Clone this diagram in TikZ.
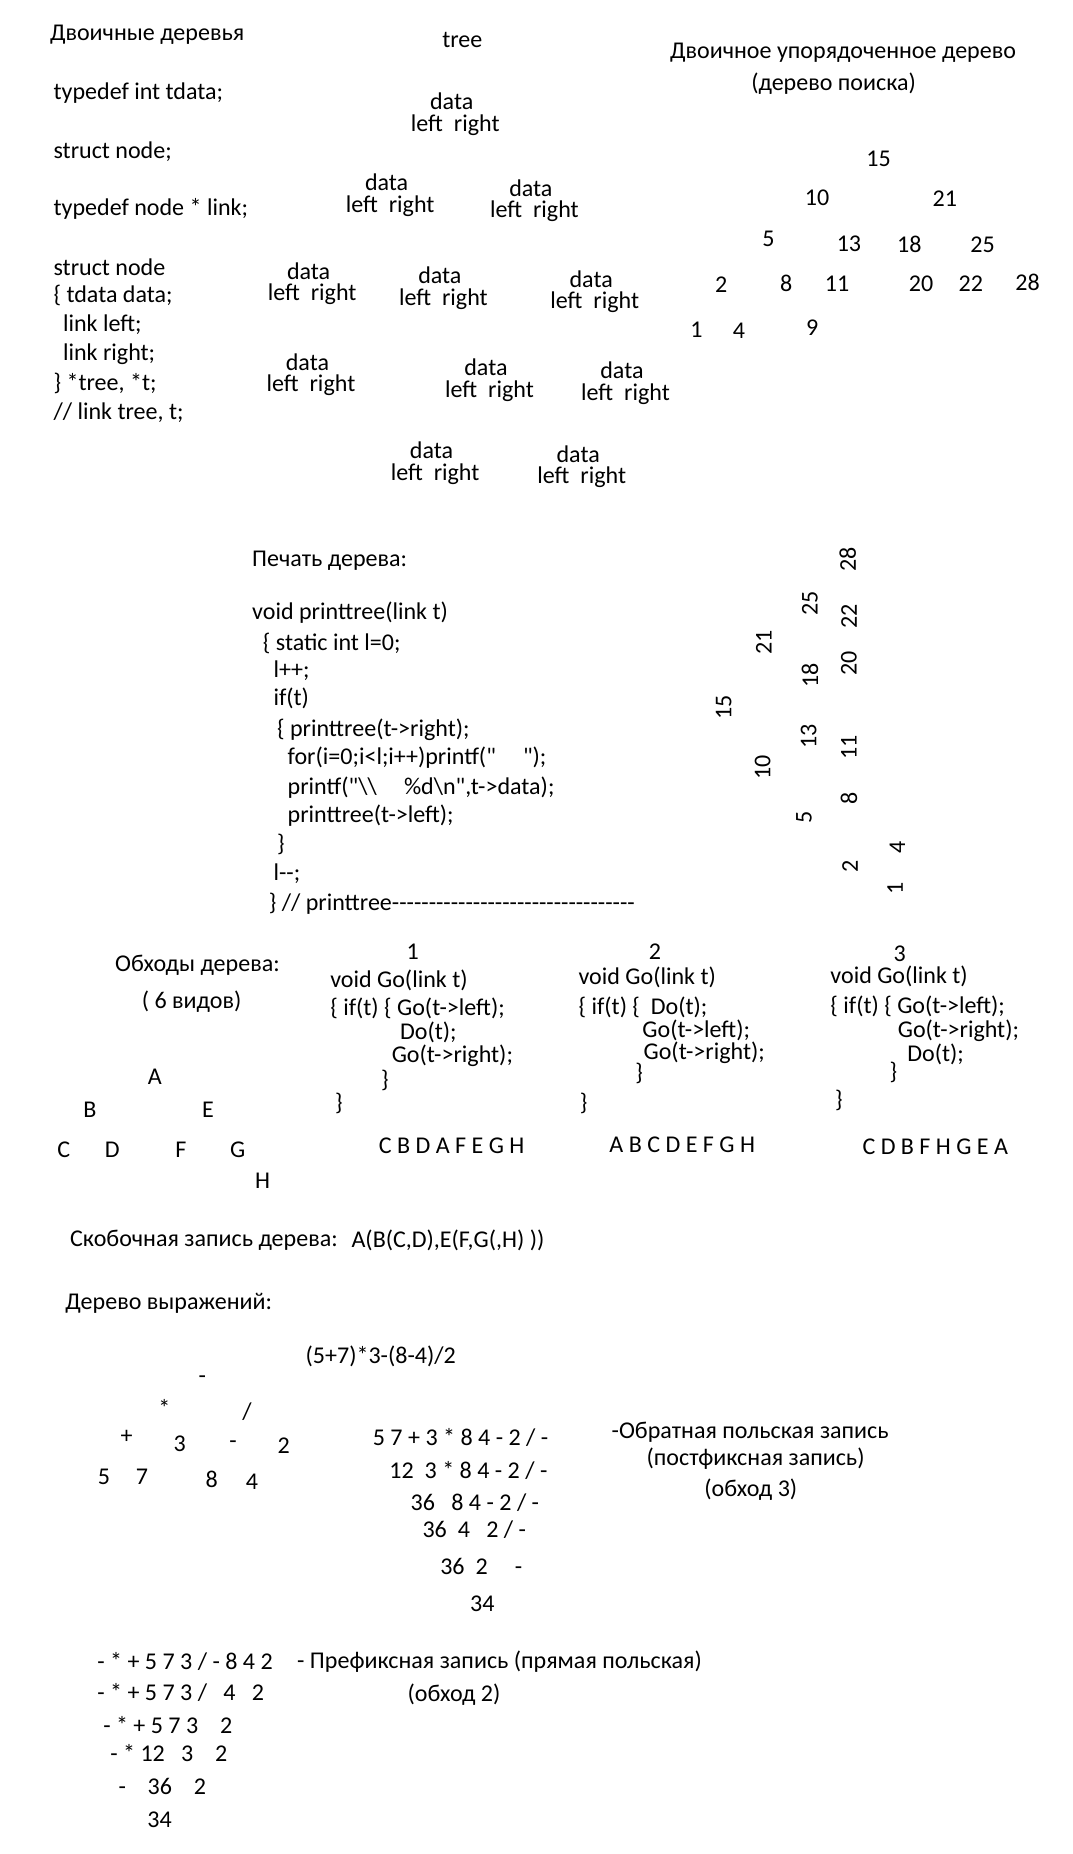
\documentclass[tikz,border=0pt]{standalone}
\usepackage{fontspec}
\setmainfont{Carlito}[Ligatures=TeXOff]
\begin{document}
\begin{tikzpicture}[x=0.6pt, y=-0.6pt, every node/.style={inner sep=0pt, font=\fontsize{12.2}{14}\selectfont}, txt/.style={anchor=west}, rot/.style={rotate=90}]
    \useasboundingbox (0, 0) rectangle (907, 1568);
    \node[txt] (title) at (42, 29) {Двоичные деревья};
    \node (tree) at (391, 34) {tree};
    \node[txt] (td) at (45, 79) {typedef int tdata;};
    \node[txt] (sn) at (45, 128) {struct node;};
    \node[txt] (tl) at (45, 177) {typedef node * link;};
    \node[txt] (s1) at (45, 226) {struct node};
    \node[txt] (s2) at (45, 250) {\{ tdata data;};
    \node[txt] (s3) at (53, 275) {link left;};
    \node[txt] (s4) at (53, 300) {link right;};
    \node[txt] (s5) at (45, 324) {\} *tree, *t;};
    \node[txt] (s6) at (45, 349) {// link tree, t;};
    \foreach \i/\x/\y in {0/382/86, 1/327/154, 2/449/159, 3/261/229, 4/372/233, 5/500/236, 6/260/306, 7/411/311, 8/526/313, 9/365/381, 10/489/384} {
        \node (d\i) at (\x, \y) {data};
        \node (lr\i) at (\x+3, \y+20) {left\ \ right};
    }
    \node (bst1) at (713, 45) {Двоичное упорядоченное дерево};
    \node (bst2) at (705, 71) {(дерево поиска)};
    \foreach \v/\x/\y in {15/743/134, 10/691/167, 21/799/168, 5/650/202, 13/718/206, 18/769/207, 25/831/207, 2/610/241, 8/665/240, 11/708/240, 20/779/240, 22/821/240, 28/869/239, 1/589/279, 4/625/280, 9/687/277}
        \node (k\v) at (\x, \y) {\v};
    \node[txt] (pr0) at (213, 474) {Печать дерева:};
    \node[txt] (pr1) at (213, 518) {void printtree(link t)};
    \node[txt] (pr2) at (222, 544) {\{ static int l=0;};
    \node[txt] (pr3) at (231, 567) {l++;};
    \node[txt] (pr4) at (231, 591) {if(t)};
    \node[txt] (pr5) at (234, 617) {\{ printtree(t->right);};
    \node[txt] (pr6) at (243, 641) {for(i=0;i<l;i++)printf("\ \ \ \ \ ");};
    \node[txt] (pr7) at (243, 666) {printf("\textbackslash\textbackslash\ \ \ \ \ \%d\textbackslash n",t->data);};
    \node[txt] (pr8) at (243, 690) {printtree(t->left);};
    \node[txt] (pr9) at (234, 714) {\}};
    \node[txt] (pr10) at (231, 739) {l--;};
    \node[txt] (pr11) at (227, 764) {\} // printtree---------------------------------};
    \foreach \v/\x/\y in {28/717/473, 25/685/510, 22/718/521, 21/646/543, 20/718/561, 18/685/571, 15/612/598, 13/684/623, 11/718/632, 10/645/649, 8/718/675, 5/680/691, 4/759/717, 2/719/733, 1/757/751}
        \node[rot] (r\v) at (\x, \y) {\v};
    \node (ob1) at (167, 816) {Обходы дерева:};
    \node (ob2) at (162, 847) {( 6 видов)};
    \foreach \v/\x/\y in {A/131/911, B/76/939, E/176/939, C/54/972, D/95/972, F/153/972, G/201/972, H/222/999}
        \node (t\v) at (\x, \y) {\v};
    \node (g1) at (349, 805) {1};
    \node[txt] (g1a) at (279, 829) {void Go(link t)};
    \node[txt] (g1b) at (279, 853) {\{ if(t) \{ Go(t->left);};
    \node[txt] (g1c) at (338, 873) {Do(t);};
    \node[txt] (g1d) at (331, 893) {Go(t->right);};
    \node[txt] (g1e) at (322, 914) {\}};
    \node[txt] (g1f) at (283, 933) {\}};
    \node (w1) at (382, 969) {C B D A F E G H};
    \node (g2) at (554, 805) {2};
    \node[txt] (g2a) at (489, 827) {void Go(link t)};
    \node[txt] (g2b) at (489, 852) {\{ if(t) \{\ \ Do(t);};
    \node[txt] (g2c) at (543, 871) {Go(t->left);};
    \node[txt] (g2d) at (544, 890) {Go(t->right);};
    \node[txt] (g2e) at (537, 908) {\}};
    \node[txt] (g2f) at (490, 933) {\}};
    \node (w2) at (577, 968) {A B C D E F G H};
    \node (g3) at (761, 807) {3};
    \node[txt] (g3a) at (702, 826) {void Go(link t)};
    \node[txt] (g3b) at (702, 851) {\{ if(t) \{ Go(t->left);};
    \node[txt] (g3c) at (759, 872) {Go(t->right);};
    \node[txt] (g3d) at (767, 892) {Do(t);};
    \node[txt] (g3e) at (752, 907) {\}};
    \node[txt] (g3f) at (706, 931) {\}};
    \node (w3) at (791, 970) {C D B F H G E A};
    \node[txt] (br) at (59, 1049) {Скобочная запись дерева:};
    \node[txt] (brf) at (297, 1049) {A(B(C,D),E(F,G(,H) ))};
    \node[txt] (ex) at (55, 1102) {Дерево выражений:};
    \node (exf) at (322, 1147) {(5+7)*3-(8-4)/2};
    \foreach \n/\v/\x/\y in {e1/-/171/1167, e2/*/139/1191, e3/{/}/209/1194, e4/+/107/1215, e5/3/152/1221, e6/-/197/1222, e7/2/240/1223, e8/5/88/1249, e9/7/120/1249, e10/8/179/1251, e11/4/213/1253}
        \node (\n) at (\x, \y) {\v};
    \node[txt] (po1) at (315, 1216) {5 7 + 3 * 8 4 - 2 / -};
    \node[txt] (po2) at (329, 1244) {12\ \ 3 * 8 4 - 2 / -};
    \node[txt] (po3) at (347, 1271) {36\ \ \ 8 4 - 2 / -};
    \node[txt] (po4) at (357, 1294) {36\ \ 4\ \ \ 2 / -};
    \node[txt] (po5) at (372, 1325) {36\ \ 2\ \ \ \ \ -};
    \node (po6) at (408, 1356) {34};
    \node[txt] (pn1) at (517, 1211) {-Обратная польская запись};
    \node (pn2) at (639, 1234) {(постфиксная запись)};
    \node (pn3) at (635, 1260) {(обход 3)};
    \node[txt] (pf1) at (82, 1405) {- * + 5 7 3 / - 8 4 2};
    \node[txt] (pf2) at (82, 1431) {- * + 5 7 3 /\ \ \ 4\ \ \ 2};
    \node[txt] (pf3) at (87, 1459) {- * + 5 7 3\ \ \ \ 2};
    \node[txt] (pf4) at (93, 1483) {- * 12\ \ \ 3\ \ \ \ 2};
    \node[txt] (pf5) at (100, 1511) {-\ \ \ \ 36\ \ \ \ 2};
    \node (pf6) at (135, 1539) {34};
    \node[txt] (pn4) at (251, 1405) {- Префиксная запись (прямая польская)};
    \node (pn5) at (384, 1433) {(обход 2)};
\end{tikzpicture}
\end{document}
